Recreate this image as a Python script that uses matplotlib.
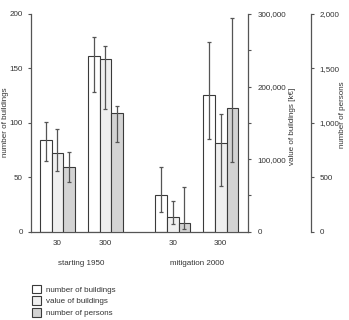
import numpy as np
import matplotlib.pyplot as plt
from matplotlib.patches import Patch
from matplotlib.ticker import MultipleLocator, FuncFormatter
from matplotlib.transforms import blended_transform_factory

plt.rcParams['font.family'] = ['Liberation Sans', 'DejaVu Sans']
plt.rcParams['font.size'] = 5.8
plt.rcParams['text.color'] = '#333333'

# data
scenarios = ['starting 1950', 'mitigation 2000']
cases = ['30', '300', '30', '300']
buildings = [84, 161.5, 33.5, 125.7]
buildings_lo = [65, 128, 17.8, 84.8]
buildings_hi = [100.4, 178.6, 59.5, 174]
value = [108000, 237600, 20000, 122000]
value_lo = [83500, 168900, 10600, 62800]
value_hi = [141300, 255600, 42000, 162000]
persons = [590, 1092, 77, 1138]
persons_lo = [453, 826, 25, 637]
persons_hi = [728, 1153, 407, 1963]

edge = '#3a3a3a'
spine_c = '#555555'
cols = ['white', '#efefef', '#d3d3d3']
fs = 5.8

fig = plt.figure(figsize=(3.49, 3.2), dpi=100)
ax = fig.add_axes([31/349, 1 - 231.7/320, 217/349, 217.7/320])
ax2 = ax.twinx()
ax3 = ax.twinx()

x = np.array([0, 1, 2.4, 3.4])
w = 0.245

def bars(a, off, vals, lo, hi, col):
    vals = np.array(vals)
    err = [vals - np.array(lo), np.array(hi) - vals]
    a.bar(x + off, vals, w, color=col, edgecolor=edge, linewidth=0.8)
    a.errorbar(x + off, vals, yerr=err, fmt='none', ecolor='#555555',
               elinewidth=0.9, capsize=1.5, capthick=0.9)

bars(ax, -w, buildings, buildings_lo, buildings_hi, cols[0])
bars(ax2, 0, value, value_lo, value_hi, cols[1])
bars(ax3, w, persons, persons_lo, persons_hi, cols[2])

ax.set_xlim(-0.552, 3.97)
ax.set_ylim(0, 200)
ax2.set_ylim(0, 300000)
ax3.set_ylim(0, 2000)

ax.yaxis.set_major_locator(MultipleLocator(50))
ax2.yaxis.set_major_locator(MultipleLocator(100000))
ax2.yaxis.set_minor_locator(MultipleLocator(50000))
ax3.yaxis.set_major_locator(MultipleLocator(500))
fmt = FuncFormatter(lambda v, p: '{:,}'.format(int(v)))
ax2.yaxis.set_major_formatter(fmt)
ax3.yaxis.set_major_formatter(fmt)

ax3.spines['right'].set_position(('axes', 280/217))

for a in (ax, ax2, ax3):
    for s in a.spines.values():
        s.set_visible(False)
        s.set_color(spine_c)
        s.set_linewidth(0.9)
    a.tick_params(axis='y', length=2, width=0.8, color=spine_c,
                  labelsize=fs, labelcolor='#333333', pad=4)
    a.tick_params(axis='y', which='minor', length=2, width=0.8, color=spine_c)
ax.spines['left'].set_visible(True)
ax.spines['bottom'].set_visible(True)
ax2.spines['right'].set_visible(True)
ax3.spines['right'].set_visible(True)
ax2.tick_params(axis='y', pad=5)

ax.set_xticks(x)
ax.set_xticklabels(cases)
ax.tick_params(axis='x', length=0, pad=6, labelsize=fs, labelcolor='#333333')

# axis titles placed in figure pixels
fig.text(6/349, 1 - 122/320, 'number of buildings', rotation=90, ha='center', va='center')
fig.text(292/349, 1 - 126/320, 'value of buildings [k€]', rotation=90, ha='center', va='center')
fig.text(343/349, 1 - 115/320, 'number of persons', rotation=90, ha='center', va='center')

tr = blended_transform_factory(ax.transData, ax.transAxes)
for i, name in enumerate(scenarios):
    ax.text((x[2*i] + x[2*i+1]) / 2, -0.148, name, transform=tr,
            ha='center', va='center')

handles = [Patch(facecolor=c, edgecolor=edge, linewidth=0.8) for c in cols]
fig.legend(handles, ['number of buildings', 'value of buildings', 'number of persons'],
           loc='upper left', bbox_to_anchor=(26/349, 1 - 279/320), frameon=False,
           handlelength=1.2, handleheight=1.25, handletextpad=0.6, labelspacing=0.35,
           borderaxespad=0.3, fontsize=fs)

plt.savefig('out.png', dpi=100)
